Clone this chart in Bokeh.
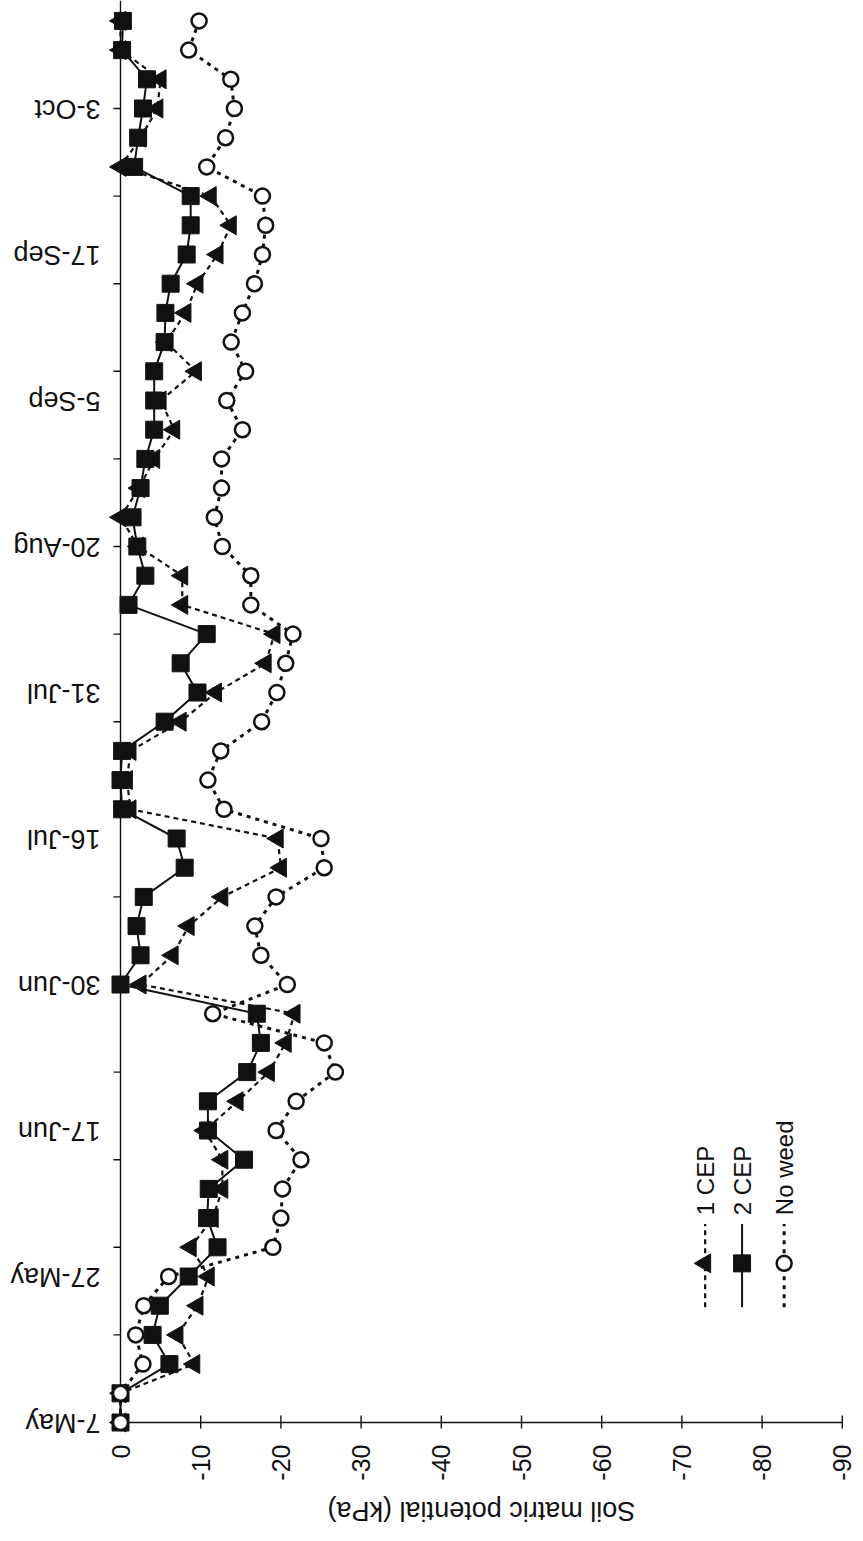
from math import pi

from bokeh.core.properties import value
from bokeh.embed import file_html
from bokeh.models import Label, Range1d
from bokeh.plotting import figure
from bokeh.resources import INLINE

# Successive readings (category positions along the date axis)
reading = list(range(49))

# Dates printed on the date axis, keyed by reading number
date_labels = {
    0: "7-May", 5: "27-May", 10: "17-Jun", 15: "30-Jun", 20: "16-Jul",
    25: "31-Jul", 30: "20-Aug", 35: "5-Sep", 40: "17-Sep", 45: "3-Oct",
}

# Soil matric potential (kPa) per reading
cep_1 = [
    0, 0, -9.2, -7.1, -9.6, -11.0, -8.75, -11.5, -12.7, -12.7,
    -10.5, -14.6, -18.5, -20.6, -21.7, -2.5, -6.5, -8.5, -12.7, -20.0,
    -19.6, -1.25, -0.8, -1.25, -7.5, -11.9, -18.1, -19.2, -7.7, -7.7,
    -2.2, 0, -2.3, -4.2, -6.7, -5.0, -9.4, -5.7, -8.1, -9.6,
    -12.1, -13.75, -11.25, 0, -2.5, -4.6, -5.0, 0, 0,
]
cep_2 = [
    0, 0, -6.1, -4.0, -4.9, -8.5, -12.1, -10.8, -11.0, -15.4,
    -10.9, -10.9, -15.8, -17.5, -17.0, 0, -2.5, -2.0, -2.9, -8.0,
    -7.0, -0.2, 0, -0.2, -5.5, -9.6, -7.5, -10.75, -1.0, -3.1,
    -2.1, -1.5, -2.5, -3.1, -4.2, -4.2, -4.2, -5.5, -5.6, -6.25,
    -8.25, -8.75, -8.75, -1.7, -2.2, -2.8, -3.3, -0.2, -0.3,
]
no_weed = [
    0, 0, -2.8, -1.9, -2.9, -6.0, -19.0, -20.0, -20.2, -22.5,
    -19.4, -21.9, -26.8, -25.4, -11.5, -20.8, -17.5, -16.75, -19.4, -25.4,
    -25.0, -12.9, -10.9, -12.5, -17.6, -19.5, -20.6, -21.5, -16.25, -16.25,
    -12.7, -11.7, -12.6, -12.6, -15.2, -13.25, -15.6, -13.8, -15.2, -16.7,
    -17.7, -18.1, -17.7, -10.75, -13.1, -14.2, -13.75, -8.5, -9.8,
]

kpa_ticks = [0, -10, -20, -30, -40, -50, -60, -70, -80, -90]
date_ticks = list(range(0, 49, 3))

series_names = ["1 CEP", "2 CEP", "No weed"]

FONT = "Liberation Sans"
INK = "#111111"

# Canvas geometry: the whole page is the plotting frame, the axes are
# drawn along kPa = 0 and along the first reading.
W, H = 863, 1541
ORIGIN_X, ORIGIN_Y = 120, 1422        # pixel position of (0 kPa, reading 0)
PX_PER_KPA = 8.02
PX_PER_READING = 29.2

x_start = ORIGIN_X / PX_PER_KPA
x_end = -(W - ORIGIN_X) / PX_PER_KPA
y_start = -(H - ORIGIN_Y) / PX_PER_READING
y_end = ORIGIN_Y / PX_PER_READING

p = figure(
    width=W, height=H, min_border=0,
    x_range=Range1d(x_start, x_end), y_range=Range1d(y_start, y_end),
    x_axis_location=None, y_axis_location=None,
    output_backend="svg", toolbar_location=None, tools="",
)
p.outline_line_color = None
p.xgrid.grid_line_color = None
p.ygrid.grid_line_color = None
p.background_fill_color = "white"
p.border_fill_color = "white"

AXIS_W = 1.4
kpa_min = min(kpa_ticks)

# kPa axis: line, ticks crossing it, upward-reading labels
p.segment(x0=[0], y0=[0], x1=[kpa_min], y1=[0], line_color=INK, line_width=AXIS_W)
tick_in = 7 / PX_PER_READING
tick_out = 6 / PX_PER_READING
p.segment(x0=kpa_ticks, y0=[tick_in] * len(kpa_ticks),
          x1=kpa_ticks, y1=[-tick_out] * len(kpa_ticks),
          line_color=INK, line_width=AXIS_W)
p.text(x=kpa_ticks, y=[0] * len(kpa_ticks), text=[f"{t:d}" for t in kpa_ticks],
       angle=pi / 2, y_offset=22, text_align="right", text_baseline="middle",
       text_font=value(FONT), text_font_size=value("25px"), text_color=INK)

# Date axis: line, outward ticks every third reading, turned labels
p.segment(x0=[0], y0=[0], x1=[0], y1=[y_end], line_color=INK, line_width=AXIS_W)
tick_len = 7 / PX_PER_KPA
p.segment(x0=[0] * len(date_ticks), y0=date_ticks,
          x1=[tick_len] * len(date_ticks), y1=date_ticks,
          line_color=INK, line_width=AXIS_W)
label_pos = sorted(date_labels)
p.text(x=[0] * len(label_pos), y=label_pos, text=[date_labels[k] for k in label_pos],
       angle=pi, x_offset=-20, text_align="left", text_baseline="middle",
       text_font=value(FONT), text_font_size=value("27px"), text_color=INK)

# 1 CEP: dashed line, left-pointing filled triangles
p.line(x=cep_1, y=reading, line_color=INK, line_width=2.2, line_dash="5 4")
p.scatter(x=cep_1, y=reading, marker="triangle", angle=pi / 2, size=19,
          fill_color=INK, line_color=INK)

# 2 CEP: solid line, filled squares
p.line(x=cep_2, y=reading, line_color=INK, line_width=2)
p.scatter(x=cep_2, y=reading, marker="square", size=17,
          fill_color=INK, line_color=INK)

# No weed: dotted line, open circles
p.line(x=no_weed, y=reading, line_color=INK, line_width=3, line_dash="4 5")
p.scatter(x=no_weed, y=reading, marker="circle", size=15,
          fill_color="white", line_color=INK, line_width=2.5)

# Axis title, turned with the rest of the chart
p.add_layout(Label(
    x=kpa_min / 2, y=-88 / PX_PER_READING, text="Soil matric potential (kPa)",
    angle=pi, text_align="center", text_baseline="middle",
    text_font=FONT, text_font_size="27px", text_color=INK,
))

# Legend, set upright along the reading axis
legend_x = [-72.9, -77.5, -82.75]
legend_styles = [
    dict(line_dash="5 4", line_width=2.2),
    dict(line_dash="solid", line_width=2),
    dict(line_dash="4 5", line_width=3),
]
legend_markers = [
    dict(marker="triangle", angle=pi / 2, size=19, fill_color=INK, line_color=INK),
    dict(marker="square", size=17, fill_color=INK, line_color=INK),
    dict(marker="circle", size=15, fill_color="white", line_color=INK, line_width=2.5),
]
for name, lx, style, mk in zip(series_names, legend_x, legend_styles, legend_markers):
    p.segment(x0=[lx], y0=[3.95], x1=[lx], y1=[6.8], line_color=INK, **style)
    p.scatter(x=[lx], y=[5.45], **mk)
    p.add_layout(Label(
        x=lx, y=7.1, text=name, angle=pi / 2,
        text_align="left", text_baseline="middle",
        text_font=FONT, text_font_size="24px", text_color=INK,
    ))

open("out.html", "w").write(file_html(p, INLINE))
